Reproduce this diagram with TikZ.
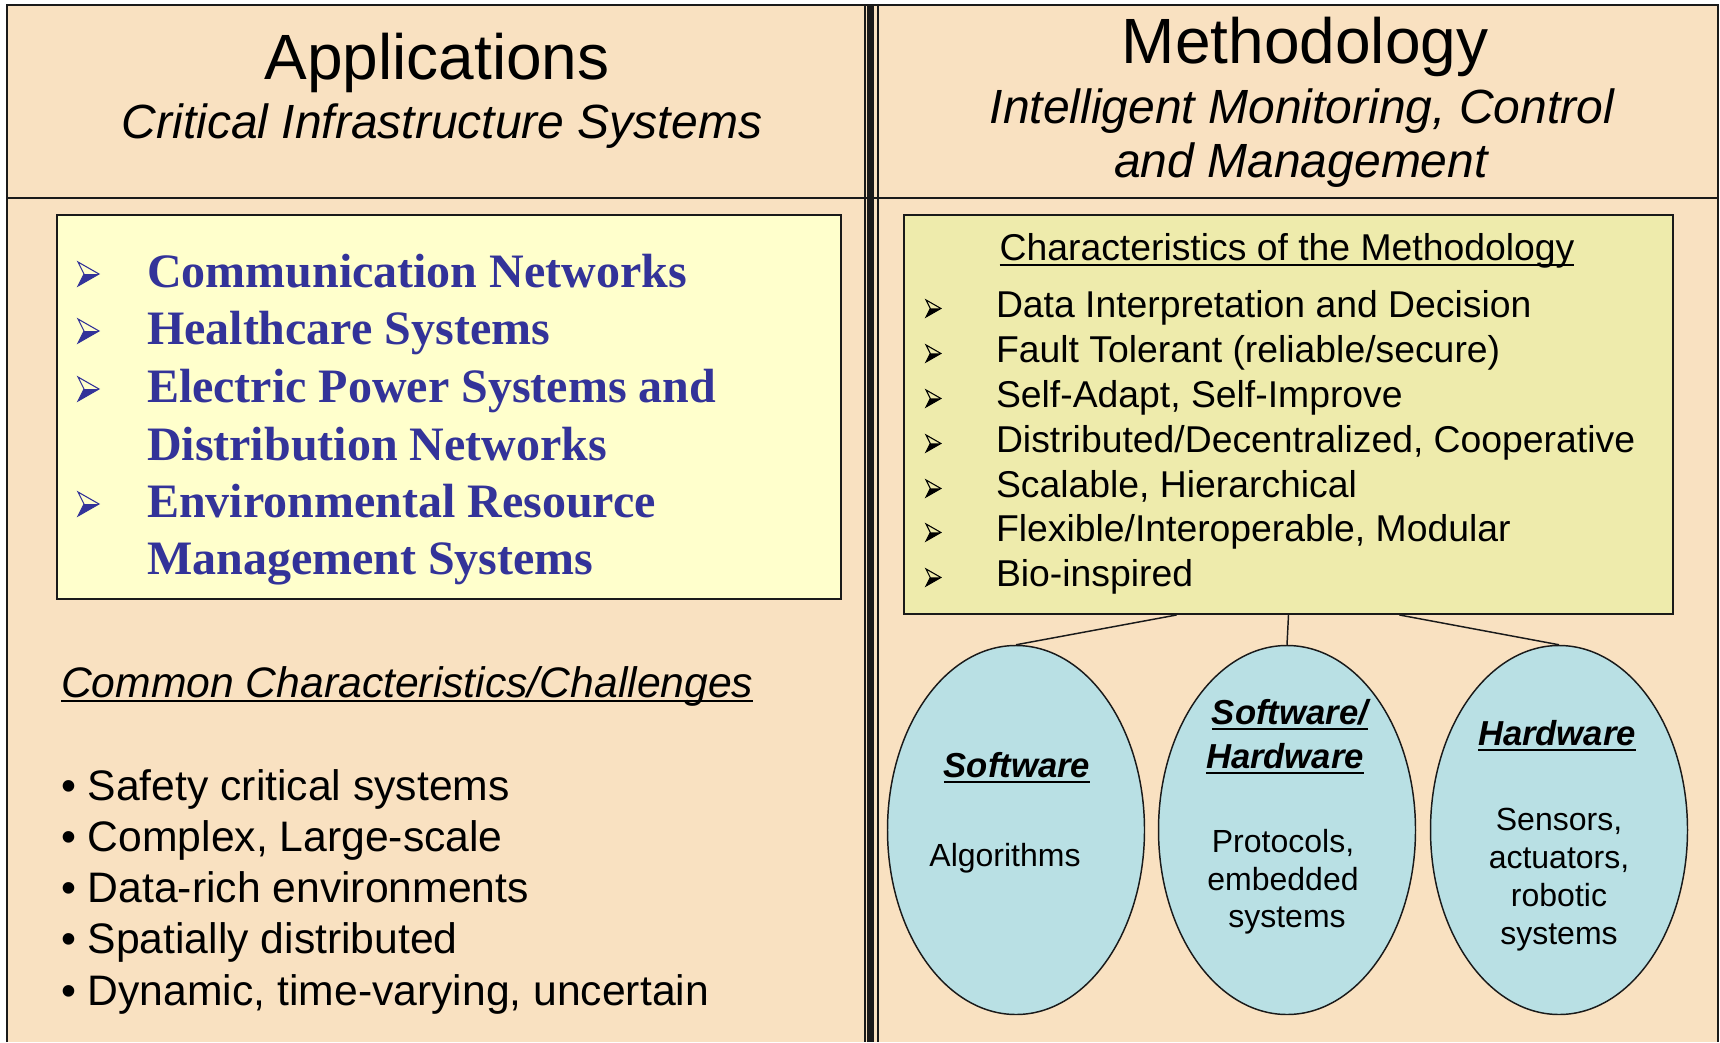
\documentclass[tikz,border=0pt]{standalone}
\usepackage{fontspec}
\setmainfont{Liberation Sans}
\newfontfamily\timesbold[BoldFont={Liberation Serif Bold}]{Liberation Serif}
\usetikzlibrary{shapes.geometric,calc}

\definecolor{peach}{HTML}{F9E1C1}
\definecolor{paleyel}{HTML}{FFFFCC}
\definecolor{khaki}{HTML}{EEEBAC}
\definecolor{iceblue}{HTML}{B9E0E4}
\definecolor{navyink}{HTML}{333399}
\definecolor{rule}{HTML}{1A1A1A}

\tikzset{
  arrowbullet/.pic={
    \fill (6,-12) -- (21,-12) -- (0,0) -- cycle;
    \draw[line width=0.8pt, line join=miter] (0,-24) -- (21,-12) -- (0,0) -- (6,-12) -- cycle;
  }
}

\begin{document}
\begin{tikzpicture}[x=0.75pt, y=-0.75pt,
  txt/.style={inner sep=0pt, outer sep=0pt},
  title/.style={txt, anchor=base, font=\fontsize{48}{56}\selectfont},
  subtitle/.style={txt, anchor=base, font=\fontsize{36}{42}\selectfont\itshape},
  appitem/.style={txt, anchor=base west, text=navyink,
    font=\timesbold\fontsize{36}{42}\selectfont\bfseries},
  methitem/.style={txt, anchor=base west, font=\fontsize{28}{33}\selectfont},
  challenge/.style={txt, anchor=base west, font=\fontsize{32}{38}\selectfont},
  ehead/.style={txt, anchor=base, font=\fontsize{26}{30}\selectfont\bfseries\itshape},
  ebody/.style={txt, anchor=base, font=\fontsize{24}{28}\selectfont},
  box/.style={draw=rule, line width=1.5pt, rectangle, anchor=north west, inner sep=0pt},
  oval/.style={draw=rule, line width=1.1pt, ellipse, fill=iceblue, inner sep=0pt,
    minimum width=192.75pt, minimum height=276.75pt},
  link/.style={draw=rule, line width=1.1pt},
  uline/.style={line width=1.4pt},
  frame/.style={draw=rule, line width=1.6pt},
]
\useasboundingbox (0,0) rectangle (1720,1042);

% panel background and frame
\fill[peach] (7,5) rectangle (1718,1042);
\draw[frame] (7,1042) -- (7,5) -- (1718,5) -- (1718,1042);
\draw[frame] (7,198) -- (1718,198);
% double divider between the two panels
\draw[rule, line width=1.2pt] (865,5) -- (865,1042);
\draw[rule, line width=5.2pt] (870.5,5) -- (870.5,1042);
\draw[rule, line width=1.3pt] (878,5) -- (878,1042);

% headings
\node[title] (apptitle) at (437,79) {Applications};
\node[subtitle] (appsub) at (442,138) {Critical Infrastructure Systems};
\node[title] (methtitle) at (1305,63) {Methodology};
\node[subtitle] (methsub1) at (1302,123) {Intelligent Monitoring, Control};
\node[subtitle] (methsub2) at (1301,177) {and Management};

% application domains
\node[box, fill=paleyel, minimum width=588pt, minimum height=288pt] (lbox) at (56,214) {};
\pic[navyink] at (78,286) {arrowbullet};
\node[appitem] (app1) at (147,287) {Communication Networks};
\pic[navyink] at (78,343) {arrowbullet};
\node[appitem] (app2) at (147,344) {Healthcare Systems};
\pic[navyink] at (78,401) {arrowbullet};
\node[appitem] (app3) at (147,402) {Electric Power Systems and};
\node[appitem] (app4) at (147,460) {Distribution Networks};
\pic[navyink] at (78,516) {arrowbullet};
\node[appitem] (app5) at (147,517) {Environmental Resource};
\node[appitem] (app6) at (147,574) {Management Systems};

% common characteristics
\node[challenge, font=\fontsize{32}{38}\selectfont\itshape] (cchead) at (61,697) {Common Characteristics/Challenges};
\draw[uline] ([yshift=-3pt]cchead.base west) -- ([yshift=-3pt]cchead.base east);
\node[challenge] (ch1) at (61,800) {• Safety critical systems};
\node[challenge] (ch2) at (61,851) {• Complex, Large-scale};
\node[challenge] (ch3) at (61,902) {• Data-rich environments};
\node[challenge] (ch4) at (61,953) {• Spatially distributed};
\node[challenge] (ch5) at (61,1005) {• Dynamic, time-varying, uncertain};

% methodology characteristics
\node[box, fill=khaki, minimum width=576.75pt, minimum height=299.25pt] (rbox) at (903,214) {};
\node[txt, anchor=base, font=\fontsize{28}{33}\selectfont] (mhead) at (1287,260) {Characteristics of the Methodology};
\draw[uline] ([yshift=-4pt]mhead.base west) -- ([yshift=-4pt]mhead.base east);
\foreach \yy/\name/\label in {
  317/m1/{Data Interpretation and Decision},
  362/m2/{Fault Tolerant (reliable/secure)},
  407/m3/{Self-Adapt, Self-Improve},
  452/m4/{Distributed/Decentralized, Cooperative},
  497/m5/{Scalable, Hierarchical},
  541/m6/{Flexible/Interoperable, Modular},
  586/m7/{Bio-inspired}} {
  \pic[black, scale=0.71] at (926,\yy) {arrowbullet};
  \node[methitem] (\name) at (996,\yy) {\label};
}

% realisation levels
\node[oval] (e1) at (1016,830) {};
\node[oval] (e2) at (1287,830) {};
\node[oval] (e3) at (1559,830) {};
\draw[link] ($(rbox.south)+(-112,0)$) -- (e1.north);
\draw[link] (rbox.south) -- (e2.north);
\draw[link] ($(rbox.south)+(111,0)$) -- (e3.north);

\node[ehead] (sw) at (1017,777) {Software};
\draw[uline] ([yshift=-3.75pt]sw.base west) -- ([yshift=-3.75pt]sw.base east);
\node[ebody] (sw1) at (1005,866) {Algorithms};

\node[ehead] (swhw1) at (1290,724) {Software/};
\draw[uline] ([yshift=-3.75pt]swhw1.base west) -- ([yshift=-3.75pt]swhw1.base east);
\node[ehead] (swhw2) at (1285,768) {Hardware};
\draw[uline] ([yshift=-3.75pt]swhw2.base west) -- ([yshift=-3.75pt]swhw2.base east);
\node[ebody] (swhwa) at (1283,852) {Protocols,};
\node[ebody] (swhwb) at (1283,890) {embedded};
\node[ebody] (swhwc) at (1287,927) {systems};

\node[ehead] (hw) at (1557,745) {Hardware};
\draw[uline] ([yshift=-3.75pt]hw.base west) -- ([yshift=-3.75pt]hw.base east);
\node[ebody] (hwa) at (1559,830) {Sensors,};
\node[ebody] (hwb) at (1559,868) {actuators,};
\node[ebody] (hwc) at (1559,906) {robotic};
\node[ebody] (hwd) at (1559,944) {systems};
\end{tikzpicture}
\end{document}
